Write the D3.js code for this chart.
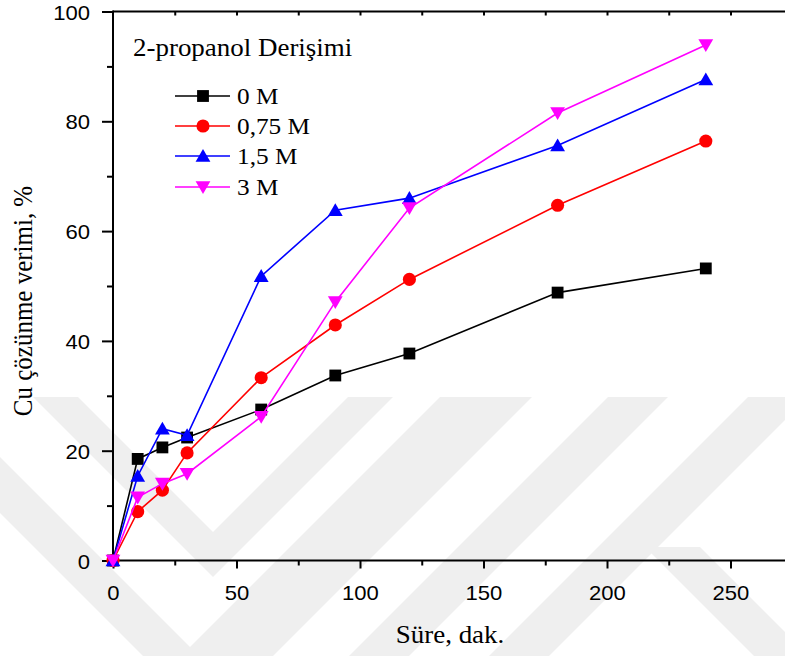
<!DOCTYPE html>
<html>
<head>
<meta charset="utf-8">
<script src="https://cdn.jsdelivr.net/npm/d3@7"></script>
<style>
  html, body { margin: 0; padding: 0; background: #fff; }
  svg { display: block; }
</style>
</head>
<body>
<svg id="chart" width="785" height="656"></svg>
<script>
// Dissolution time (minutes)
const times = [0, 10, 20, 30, 60, 90, 120, 180, 240];
// Cu dissolution yield (%) for each 2-propanol concentration
const yield0M   = [0, 18.5, 20.6, 22.4, 27.5, 33.7, 37.7, 48.8, 53.2];
const yield075M = [0, 8.9, 12.8, 19.6, 33.3, 42.9, 51.2, 64.7, 76.4];
const yield15M  = [0, 15.4, 24.0, 22.8, 51.8, 63.8, 66.0, 75.6, 87.6];
const yield3M   = [0, 11.5, 14.0, 15.8, 26.2, 47.1, 64.2, 81.5, 93.9];
const seriesNames = ["0 M", "0,75 M", "1,5 M", "3 M"];
const xTicks = [0, 50, 100, 150, 200, 250];
const yTicks = [0, 20, 40, 60, 80, 100];
const legendTitle = "2-propanol Derişimi";
const xTitle = "Süre, dak.";
const yTitle = "Cu çözünme verimi, %";

const seriesStyle = [
  { color: "#000000", symbol: d3.symbolSquare,   size: 140, rot: 0 },
  { color: "#ff0000", symbol: d3.symbolCircle,   size: 135, rot: 0 },
  { color: "#0000ff", symbol: d3.symbolTriangle, size: 95,  rot: 0 },
  { color: "#ff00ff", symbol: d3.symbolTriangle, size: 95,  rot: 180 }
];
const seriesValues = [yield0M, yield075M, yield15M, yield3M];

const svg = d3.select("#chart");
const serif = "'Liberation Serif', 'Times New Roman', serif";
const sans = "'Liberation Sans', Arial, sans-serif";

// faint background emblem made of 45-degree bands
const wm = svg.append("g").attr("fill", "#efefef");
const wmPolys = [
  [[33,397],[213,577],[393,397],[348,397],[213,532],[78,397]],
  [[0,457],[0,513],[143,656],[199,656]],
  [[440,397],[532,397],[273,656],[181,656]],
  [[608,397],[668,397],[409,656],[349,656]],
  [[748,397],[808,397],[549,656],[489,656]],
  [[645,547],[700,547],[809,656],[754,656]],
];
wmPolys.forEach(p => wm.append("polygon").attr("points", p.map(q => q.join(",")).join(" ")));

const x = d3.scaleLinear().domain([0, 280]).range([113, 804.6]);
const y = d3.scaleLinear().domain([0, 100]).range([560.5, 11.5]);

// axes
const axisW = 2;
const gBottomMinor = svg.append("g").attr("transform", `translate(0,${y(0)})`)
  .call(d3.axisBottom(x).tickValues(d3.range(25, 280, 50)).tickSize(5).tickFormat(""));
const gBottomMajor = svg.append("g").attr("transform", `translate(0,${y(0)})`)
  .call(d3.axisBottom(x).tickValues(xTicks).tickSize(8).tickPadding(8).tickFormat(d3.format("d")));
const gTop = svg.append("g").attr("transform", `translate(0,${y(100)})`)
  .call(d3.axisTop(x).tickValues(d3.range(25, 280, 25)).tickSize(-4).tickFormat(""));
const gLeftMinor = svg.append("g").attr("transform", `translate(${x(0)},0)`)
  .call(d3.axisLeft(y).tickValues(d3.range(10, 100, 20)).tickSize(6).tickFormat(""));
const gLeftMajor = svg.append("g").attr("transform", `translate(${x(0)},0)`)
  .call(d3.axisLeft(y).tickValues(yTicks).tickSize(11).tickPadding(6).tickFormat(d3.format("d")));

[gBottomMinor, gBottomMajor, gTop, gLeftMinor, gLeftMajor].forEach(g => {
  g.select(".domain").remove();
  g.selectAll(".tick line").attr("stroke", "#000").attr("stroke-width", axisW);
});
[gBottomMajor, gLeftMajor].forEach(g => {
  g.selectAll(".tick text").attr("font-family", sans).attr("font-size", 21).attr("fill", "#000");
});
gBottomMajor.selectAll(".tick text").attr("dy", null).attr("y", 0)
  .attr("transform", "translate(0,39.5) scale(1.05,1)");
gLeftMajor.selectAll(".tick text").attr("x", 0).attr("dy", null)
  .attr("transform", "translate(-23,7.5) scale(1.05,1)");

// axis spines
svg.append("line").attr("x1", x(0)).attr("x2", 790).attr("y1", y(0)).attr("y2", y(0))
  .attr("stroke", "#000").attr("stroke-width", axisW);
svg.append("line").attr("x1", x(0)).attr("x2", 790).attr("y1", y(100)).attr("y2", y(100))
  .attr("stroke", "#000").attr("stroke-width", axisW);
svg.append("line").attr("x1", x(0)).attr("x2", x(0)).attr("y1", y(0) + 1).attr("y2", y(100) - 1)
  .attr("stroke", "#000").attr("stroke-width", axisW);

// axis titles
svg.append("text").text(xTitle)
  .attr("font-family", serif).attr("font-size", 25).attr("text-anchor", "middle")
  .attr("transform", "translate(450,643) scale(1.08,1)");
svg.append("text").text(yTitle)
  .attr("font-family", serif).attr("font-size", 25).attr("text-anchor", "middle")
  .attr("transform", "translate(32,301) scale(1.1,1) rotate(-90)");

// series
const line = d3.line().x(d => x(d[0])).y(d => y(d[1]));
seriesValues.forEach((vals, i) => {
  const st = seriesStyle[i];
  const pts = times.map((t, j) => [t, vals[j]]);
  const g = svg.append("g");
  const triShift = st.symbol === d3.symbolTriangle ? (st.rot ? -1.5 : 1.5) : 0;
  g.append("path").attr("d", line(pts)).attr("fill", "none")
    .attr("stroke", st.color).attr("stroke-width", 1.6);
  g.selectAll("path.m").data(pts).enter().append("path").attr("class", "m")
    .attr("d", d3.symbol().type(st.symbol).size(st.size))
    .attr("fill", st.color)
    .attr("transform", d => `translate(${x(d[0])},${y(d[1]) + triShift}) rotate(${st.rot})`);
});

// legend
svg.append("text").text(legendTitle)
  .attr("font-family", serif).attr("font-size", 24.5)
  .attr("transform", "translate(133,56) scale(1.1,1)");
const rowY = [96, 126, 156, 187];
seriesNames.forEach((name, i) => {
  const st = seriesStyle[i];
  const ly = rowY[i];
  const triShift = st.symbol === d3.symbolTriangle ? (st.rot ? -1.5 : 1.5) : 0;
  svg.append("line").attr("x1", 175).attr("x2", 230).attr("y1", ly).attr("y2", ly)
    .attr("stroke", st.color).attr("stroke-width", 1.6);
  svg.append("path").attr("d", d3.symbol().type(st.symbol).size(st.size))
    .attr("fill", st.color)
    .attr("transform", `translate(203,${ly + triShift}) rotate(${st.rot})`);
  svg.append("text").text(name)
    .attr("font-family", serif).attr("font-size", 23)
    .attr("transform", `translate(237,${ly + 7.5}) scale(1.1,1)`);
});
</script>
</body>
</html>
